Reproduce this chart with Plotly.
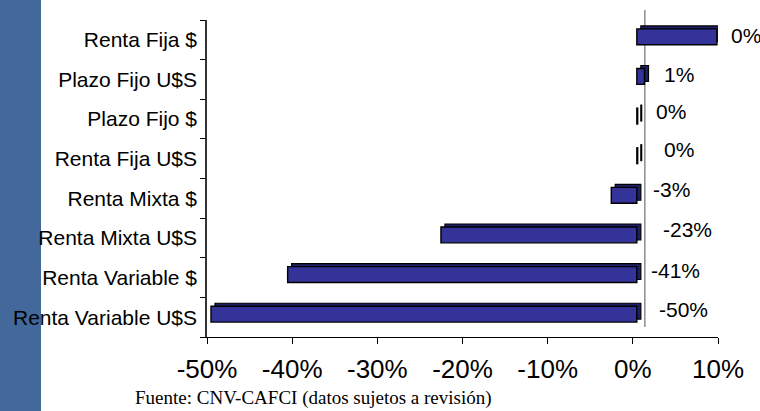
import plotly.graph_objects as go

# ---- data (top to bottom as shown) ----
categories = ["Renta Fija $", "Plazo Fijo U$S", "Plazo Fijo $", "Renta Fija U$S",
              "Renta Mixta $", "Renta Mixta U$S", "Renta Variable $", "Renta Variable U$S"]
values = [9.4, 0.9, 0.1, 0.1, -3.0, -23.0, -41.0, -50.0]
value_labels = ["0%", "1%", "0%", "0%", "-3%", "-23%", "-41%", "-50%"]
x_ticks = [-50, -40, -30, -20, -10, 0, 10]
x_tick_labels = ["-50%", "-40%", "-30%", "-20%", "-10%", "0%", "10%"]
source_text = "Fuente: CNV-CAFCI (datos sujetos a revisión)"

# ---- style / geometry ----
W, H = 760, 411
ML, MR, MT, MB = 207, 42, 20, 74
PW, PH = W - ML - MR, H - MT - MB
XR = [-50, 10]
ppx = PW / (XR[1] - XR[0])
ppy = PH / len(categories)
label_dx = [12, 17, 16, 24, 14, 24, 12, 20]
label_dy = [4, 5, 8, 9, 9, 8, 7, 8]

cat_order = categories[::-1]
FRONT = "#333399"
DEPTH = "#1f1f66"
SANS = "Liberation Sans, Arial, sans-serif"
SERIF = "Liberation Serif, Times New Roman, serif"


def xrange_shift(px):
    d = px / ppx
    return [XR[0] - d, XR[1] - d]


def yrange_shift(px):
    d = px / ppy
    return [-0.5 - d, len(categories) - 0.5 - d]


fig = go.Figure()

# invisible trace so the main (visible) axes form a subplot
fig.add_trace(go.Scatter(x=[0], y=[categories[0]], mode="markers",
                         marker=dict(opacity=0), xaxis="x", yaxis="y",
                         hoverinfo="skip", showlegend=False))
# invisible trace for the back-wall axis
fig.add_trace(go.Scatter(x=[0], y=[categories[0]], mode="markers",
                         marker=dict(opacity=0), xaxis="x2", yaxis="y2",
                         hoverinfo="skip", showlegend=False))
# depth (3D side/top) faces
fig.add_trace(go.Bar(
    x=values, y=categories, orientation="h", base=0,
    marker=dict(color=DEPTH, line=dict(color="black", width=1.2)),
    width=0.4, xaxis="x3", yaxis="y3", hoverinfo="skip", showlegend=False))
# front faces
fig.add_trace(go.Bar(
    x=values, y=categories, orientation="h", base=0,
    marker=dict(color=FRONT, line=dict(color="black", width=1.4)),
    width=0.4, xaxis="x4", yaxis="y4", hoverinfo="skip", showlegend=False))

cat_axis = dict(type="category", categoryorder="array", categoryarray=cat_order)

fig.update_layout(
    width=W, height=H,
    margin=dict(l=ML, r=MR, t=MT, b=MB, pad=0),
    paper_bgcolor="white", plot_bgcolor="rgba(0,0,0,0)",
    showlegend=False, bargap=0.6,
    xaxis=dict(range=XR, tickmode="array", tickvals=x_ticks, ticktext=x_tick_labels,
               showgrid=False, zeroline=False, showline=True, linecolor="black",
               linewidth=1, ticks="outside", ticklen=6, tickcolor="black",
               ticklabelstandoff=3,
               tickfont=dict(family=SANS, size=26, color="black"), fixedrange=True),
    yaxis=dict(**cat_axis, range=[-0.5, len(categories) - 0.5],
               showgrid=False, zeroline=False, showline=True, linecolor="#333333",
               linewidth=1.5, ticks="outside", tickson="boundaries", ticklen=5,
               tickcolor="black", ticklabelstandoff=4,
               tickfont=dict(family=SANS, size=21, color="black"),
               fixedrange=True),
    xaxis2=dict(overlaying="x", range=xrange_shift(12), visible=False),
    yaxis2=dict(**cat_axis, overlaying="y", range=yrange_shift(10), visible=False),
    xaxis3=dict(overlaying="x", range=xrange_shift(8), visible=False),
    yaxis3=dict(**cat_axis, overlaying="y", range=yrange_shift(6), visible=False),
    xaxis4=dict(overlaying="x", range=xrange_shift(4), visible=False),
    yaxis4=dict(**cat_axis, overlaying="y", range=yrange_shift(3), visible=False),
)

shapes = [
    # blue stripe at left edge of slide
    dict(type="rect", xref="paper", yref="paper",
         x0=-ML / PW, x1=(41 - ML) / PW, y0=-MB / PH, y1=1 + MT / PH,
         fillcolor="#43689c", line=dict(width=0), layer="below"),
    # back-wall zero line
    dict(type="line", xref="x2", yref="paper", x0=0, x1=0,
         y0=10 / PH, y1=1 + 10 / PH, line=dict(color="#8c8c8c", width=1.5),
         layer="below"),
]
fig.update_layout(shapes=shapes)

annotations = []
for cat, v, lab, dx, dy in zip(categories, values, value_labels, label_dx, label_dy):
    annotations.append(dict(
        x=max(v, 0), y=cat, xref="x4", yref="y", text=lab, showarrow=False,
        xanchor="left", yanchor="middle", xshift=dx, yshift=dy,
        font=dict(family=SANS, size=21, color="black")))
annotations.append(dict(
    x=(133 - ML) / PW, y=(MT + PH - 398) / PH, xref="paper", yref="paper",
    text=source_text, showarrow=False, xanchor="left", yanchor="middle",
    font=dict(family=SERIF, size=19, color="black")))
fig.update_layout(annotations=annotations)

fig.write_html("out.html", config={"displayModeBar": False},
               post_script="document.body.style.margin='0';document.body.style.overflow='hidden';")
